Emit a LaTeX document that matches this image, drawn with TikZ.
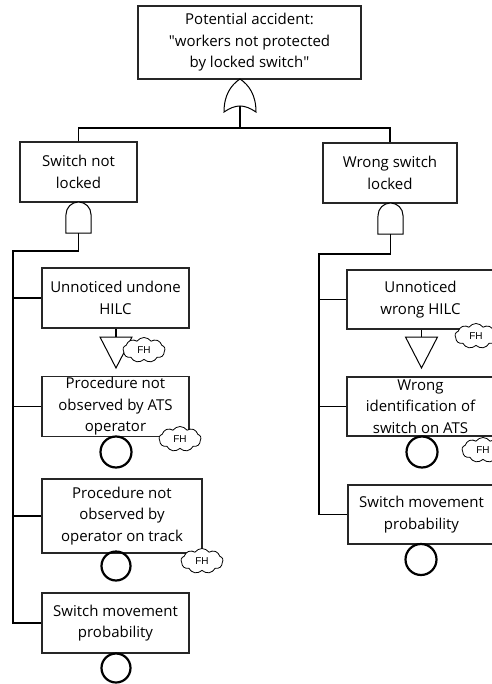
\documentclass[tikz,border=0pt]{standalone}
\usepackage{fontspec}
\setmainfont{Open Sans}
\newfontfamily\fhfont{Liberation Sans}
\usetikzlibrary{shapes.symbols}

\tikzset{
  event/.style={draw=black!85, line width=1.3pt, fill=white, minimum width=147pt,
    minimum height=60pt, align=center, inner sep=1pt,
    font=\fontsize{15}{21.5}\selectfont},
  basic/.style={draw, circle, line width=2.2pt, minimum size=29pt, inner sep=0pt},
  fh/.style={cloud, cloud puffs=9, cloud puff arc=110, aspect=1.7, draw,
    line width=0.8pt, fill=white, minimum width=42pt, minimum height=25pt,
    inner sep=0pt, font=\fhfont\fontsize{10}{10}\selectfont},
  gatenode/.style={inner sep=0pt, minimum width=#1, minimum height=29pt},
  gate/.style={line width=1pt, fill=white},
  wire/.style={line width=1.3pt},
}

\begin{document}
\begin{tikzpicture}[x=1pt, y=-1pt]
  \useasboundingbox (0,0) rectangle (491,684);

  % events
  \node[event, minimum width=223pt, minimum height=73pt] (top) at(249.5,42.5)
    {Potential accident:\\\textquotedbl workers not protected\\by locked switch\textquotedbl};
  \node[event, minimum width=117pt] (snl) at(78.5,172) {Switch not\\locked};
  \node[event, minimum width=134pt] (wsl) at(390,173) {Wrong switch\\locked};

  \node[event] (uuh) at(115.5,298) {Unnoticed undone\\HILC};
  \node[event, minimum height=59pt] (pna) at(115.5,406.5)
    {Procedure not\\observed by ATS\\operator};
  \node[event, minimum width=160pt, minimum height=74pt] (pnt) at(122,516)
    {Procedure not\\observed by\\operator on track};
  \node[event] (swl) at(115.5,623) {Switch movement\\probability};

  \node[event, minimum height=59pt] (uwh) at(420.5,299.5) {Unnoticed\\wrong HILC};
  \node[event, minimum height=59pt] (wid) at(420.5,406.5)
    {Wrong\\identification of\\switch on ATS};
  \node[event, minimum height=59pt] (swr) at(421.5,514.5) {Switch movement\\probability};

  % gates
  \node[gatenode=32pt] (org) at(240,95.5) {};
  \draw[gate] (240,79) .. controls (249,85) and (256,95) .. (256,112)
    .. controls (250,108) and (245,106) .. (240,106)
    .. controls (235,106) and (230,108) .. (224,112)
    .. controls (224,95) and (231,85) .. (240,79) -- cycle;
  \node[gatenode=25pt, minimum height=31pt] (andl) at(78.5,217.5) {};
  \draw[gate] (andl.south west) -- (66,214.5) arc[start angle=180, end angle=360, radius=12.5]
    -- (andl.south east) -- cycle;
  \node[gatenode=25pt, minimum height=31pt] (andr) at(390.5,218.5) {};
  \draw[gate] (andr.south west) -- (378,215.5) arc[start angle=180, end angle=360, radius=12.5]
    -- (andr.south east) -- cycle;

  % transfer triangles
  \draw[gate] (100,337) coordinate (tl) -- (132,337) -- (116,368) -- cycle;
  \draw[gate] (405.5,337) coordinate (tr) -- (437.5,337) -- (421.5,368) -- cycle;

  % basic events
  \node[basic, minimum size=31pt] (b1) at(116,452) {};
  \node[basic] (b2) at(116,566) {};
  \node[basic] (b3) at(116,668) {};
  \node[basic, minimum size=31pt] (b4) at(422,452) {};
  \node[basic, minimum size=31pt] (b5) at(421,559.5) {};

  % fh clouds
  \node[fh] (f1) at(144,350) {FH};
  \node[fh] (f2) at(180,439) {FH};
  \node[fh] (f3) at(202,561) {FH};
  \node[fh] (f4) at(476,336) {FH};
  \node[fh] (f5) at(483,450) {FH};

  % connectors
  \coordinate (splitT) at(240,128);
  \coordinate (busL) at(13,251);
  \coordinate (busR) at(319,254);
  \draw[wire] (240,106) -- (splitT);
  \draw[wire] (snl.north) |- (splitT) -| (wsl.north);
  \draw[wire] (andl.south) |- (busL) -- (busL |- swl.west) -- (swl.west);
  \foreach \e in {uuh, pna, pnt}
    \draw[wire] (busL |- \e.west) -- (\e.west);
  \draw[wire] (andr.south) |- (busR) -- (busR |- swr.west) -- (swr.west);
  \foreach \e in {uwh, wid}
    \draw[wire] (busR |- \e.west) -- (\e.west);
  \draw[wire] (uuh.south -| 116,0) -- (116,337);
  \draw[wire] (uwh.south -| 421.5,0) -- (421.5,337);
\end{tikzpicture}
\end{document}
